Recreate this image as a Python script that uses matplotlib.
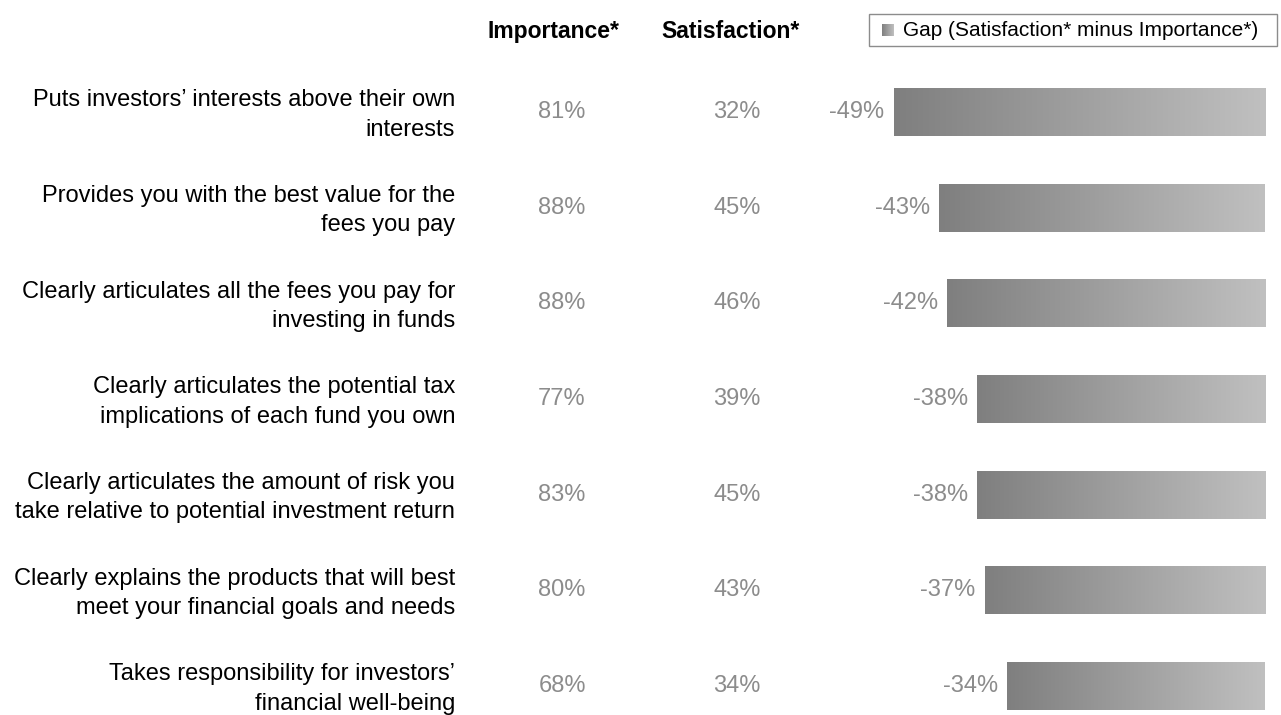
import numpy as np
import matplotlib.pyplot as plt
from matplotlib.colors import LinearSegmentedColormap
from matplotlib.patches import Rectangle

plt.rcParams['font.family'] = ['Liberation Sans', 'DejaVu Sans']

categories = [
    "Puts investors\u2019 interests above their own\ninterests",
    "Provides you with the best value for the\nfees you pay",
    "Clearly articulates all the fees you pay for\ninvesting in funds",
    "Clearly articulates the potential tax\nimplications of each fund you own",
    "Clearly articulates the amount of risk you\ntake relative to potential investment return",
    "Clearly explains the products that will best\nmeet your financial goals and needs",
    "Takes responsibility for investors\u2019\nfinancial well-being",
]
importance = [81, 88, 88, 77, 83, 80, 68]
satisfaction = [32, 45, 46, 39, 45, 43, 34]
gap = [-49, -43, -42, -38, -38, -37, -34]

W, H = 1281, 715
fig = plt.figure(figsize=(W / 100, H / 100), dpi=100)
ax = fig.add_axes([0, 0, 1, 1])

# pixel layout of the bar region
zero_px = 1265.0
px_per_pct = 7.58
row0_px, row_step = 112.0, 95.67
ax.set_xlim(-zero_px / px_per_pct, (W - zero_px) / px_per_pct)
ax.set_ylim((H - row0_px) / row_step, -row0_px / row_step)
ax.axis('off')

grey_cmap = LinearSegmentedColormap.from_list('gap_grad', ['#7f7f7f', '#c0c0c0'])
grad = np.linspace(0, 1, 256).reshape(1, -1)

ypos = np.arange(len(categories))
bars = ax.barh(ypos, gap, height=0.5, color='none', edgecolor='none')
for bar in bars:
    x0, y0 = bar.get_x(), bar.get_y()
    w, h = bar.get_width(), bar.get_height()
    xl, xr = min(x0, x0 + w), max(x0, x0 + w)
    im = ax.imshow(grad, cmap=grey_cmap, aspect='auto',
                   extent=[xl, xr, y0 + h, y0], interpolation='bicubic', zorder=2)
    im.set_clip_path(bar)

tr = ax.get_yaxis_transform()
label_fs = 17
value_fs = 17
val_color = '#8c8c8c'
imp_x, sat_x = 562 / W, 737 / W
label_shift = 3.0 / row_step
for i, (cat, imp, sat, g) in enumerate(zip(categories, importance, satisfaction, gap)):
    ax.text(455 / W, i + label_shift, cat, transform=tr, ha='right',
            va='center', fontsize=label_fs, color='#000000', linespacing=1.42)
    ax.text(imp_x, i, f"{imp}%", transform=tr, ha='center', va='center',
            fontsize=value_fs, color=val_color)
    ax.text(sat_x, i, f"{sat}%", transform=tr, ha='center', va='center',
            fontsize=value_fs, color=val_color)
    ax.text(g - 9 / px_per_pct, i, f"{g}%", ha='right', va='center',
            fontsize=value_fs, color=val_color)

# column headers
fig.text(553 / W, 1 - 38 / H, "Importance*", ha='center', va='baseline',
         fontsize=16.5, fontweight='bold', color='#000000')
fig.text(730 / W, 1 - 38 / H, "Satisfaction*", ha='center', va='baseline',
         fontsize=16.5, fontweight='bold', color='#000000')

# legend box
fig.patches.append(Rectangle((869 / W, 1 - 46 / H), (1277 - 869) / W, 32 / H,
                             transform=fig.transFigure, facecolor='white',
                             edgecolor='#8c8c8c', linewidth=1.0, zorder=-1))
lg_ax = fig.add_axes([882 / W, 1 - 36 / H, 12 / W, 12 / H])
lg_ax.imshow(grad, cmap=grey_cmap, aspect='auto', extent=[0, 1, 0, 1])
lg_ax.axis('off')
fig.text(903 / W, 1 - 30 / H, "Gap (Satisfaction* minus Importance*)",
         ha='left', va='center', fontsize=15, color='#000000')

fig.savefig('out.png', dpi=100)
